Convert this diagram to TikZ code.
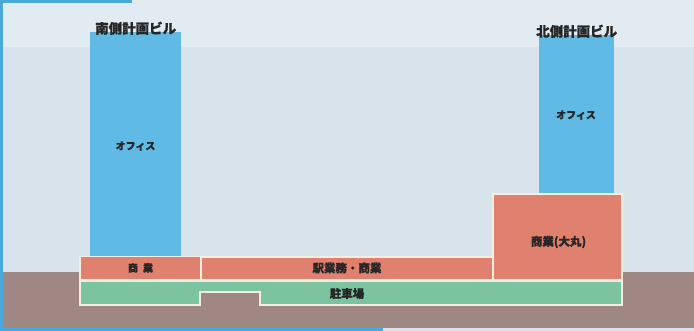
\documentclass[tikz,border=0pt]{standalone}
\usepackage{fontspec}
\newfontfamily\jp[BoldFeatures={FakeBold=0.6}]{Noto Sans CJK JP}
\definecolor{bgA}{HTML}{E2EBF1}
\definecolor{bgB}{HTML}{D8E3EB}
\definecolor{frame}{HTML}{4BA9D9}
\definecolor{bldg}{HTML}{5FBAE6}
\definecolor{shop}{HTML}{E0806F}
\definecolor{park}{HTML}{7CC39F}
\definecolor{ground}{HTML}{9F8884}
\definecolor{edge}{HTML}{F4EFE2}
\tikzset{
  blk/.style={draw=edge, line width=1.2pt},
  lbl/.style={font=\jp\bfseries\fontsize{10}{10}\selectfont, text=black!85, inner sep=0pt},
  lblB/.style={font=\jp\bfseries\fontsize{11.5}{11.5}\selectfont, text=black!85, inner sep=0pt},
  title/.style={font=\jp\bfseries\fontsize{13.5}{13.5}\selectfont, text=black!85, inner sep=0pt}
}
\begin{document}
\begin{tikzpicture}[x=1pt,y=-1pt]
\useasboundingbox (0,0) rectangle (694,331);
% background
\fill[bgB] (0,0) rectangle (694,331);
\fill[bgA] (0,0) rectangle (694,47);
% ground
\fill[ground] (3,272) rectangle (694,328);
% frame
\fill[frame] (0,0) rectangle (3,331);
\fill[frame] (0,0) rectangle (132,3);
\fill[frame] (0,328) rectangle (383,331);
% buildings
\node[fill=bldg, inner sep=0pt, minimum width=91pt, minimum height=224pt, anchor=north west] (south) at (90,32) {};
\node[fill=bldg, inner sep=0pt, minimum width=75pt, minimum height=160pt, anchor=north west] (north) at (539,35) {};
\node[title, anchor=south] (southT) at (south.north) [yshift=-3pt] {南側計画ビル};
\node[title, anchor=south] (northT) at (north.north) [yshift=-3pt] {北側計画ビル};
\node[lbl] (sOff) at (135.5,146) {オフィス};
\node[lbl] (nOff) at (576,115) {オフィス};
% podium
\path[blk, fill=shop] (80,256.5) rectangle (201,280);
\node[lbl] (shop1) at (140.5,268) {商\hspace{5pt}業};
\path[blk, fill=shop] (201,257) rectangle (493,280);
\node[lblB] (eki) at (347,268) {駅業務・商業};
\path[blk, fill=shop] (493,194) rectangle (622,280);
\node[lblB] (daimaru) at (558.5,242) {商業(大丸)};
% parking
\path[blk, fill=park] (80,281.5) -- (622,281.5) -- (622,305) -- (260,305) -- (260,292) -- (200,292) -- (200,305) -- (80,305) -- cycle;
\node[lblB] (park) at (347,293.5) {駐車場};
\end{tikzpicture}
\end{document}
